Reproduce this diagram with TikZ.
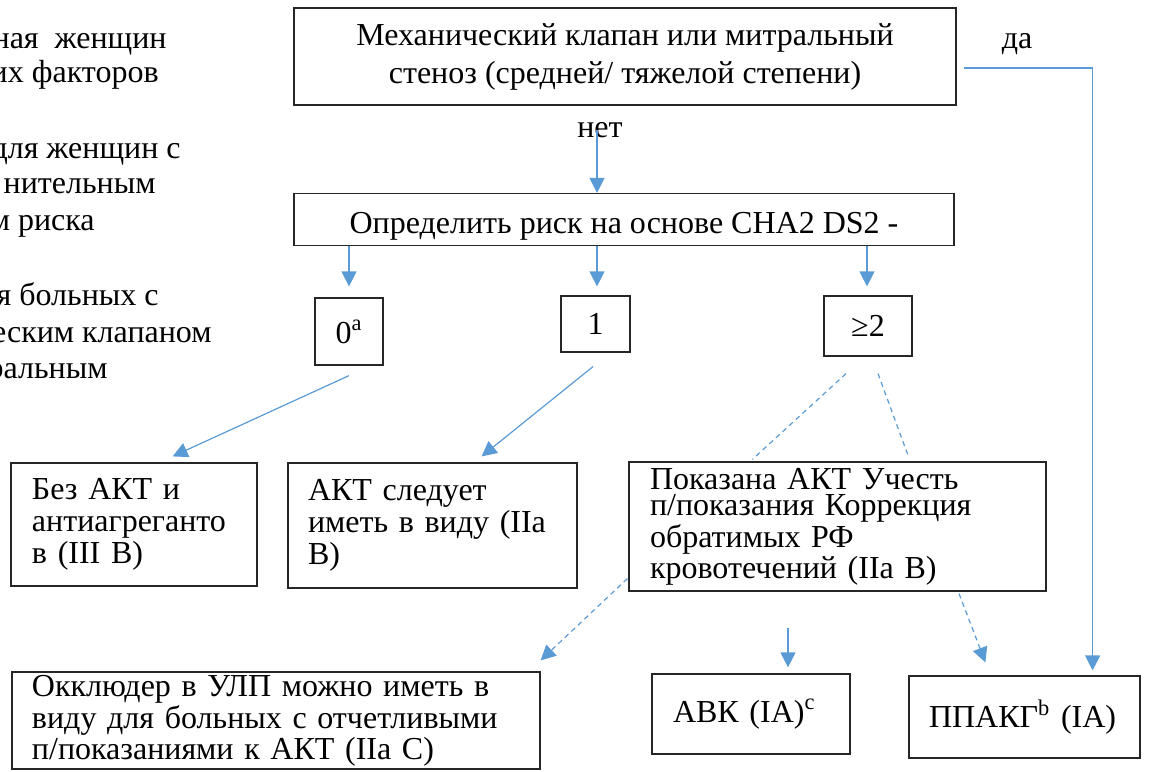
\documentclass[tikz,border=0pt]{standalone}
\usepackage{fontspec}
\setmainfont{Liberation Serif}
\usetikzlibrary{positioning,arrows.meta,calc}
\definecolor{arrowblue}{HTML}{5B9BD5}

\begin{document}
\begin{tikzpicture}[x=0.5pt,y=-0.5pt,
  font=\fontsize{16}{19}\selectfont,
  box/.style={draw=black!85,line width=0.6pt,inner sep=0pt},
  lbox/.style={box,align=left,inner xsep=10pt},
  arr/.style={draw=arrowblue,line width=0.6pt,-{Triangle[length=7.5pt,width=7.5pt]}},
  dashline/.style={draw=arrowblue,line width=0.6pt,dash pattern=on 2.5pt off 2pt},
  side/.style={anchor=base east,inner sep=0pt,font=\fontsize{16}{18}\selectfont}]

\useasboundingbox (0,0) rectangle (1149,771);

\node[side] (l1) at (167,48) {чная~ женщин};
\node[side] (l2) at (159,82) {их факторов};
\node[side] (l3) at (181,158) {для женщин с};
\node[side] (l4) at (156,193) {нительным};
\node[side] (l5) at (95,230) {м риска};
\node[side] (l6) at (159,305) {я больных с};
\node[side] (l7) at (212,342) {еским клапаном};
\node[side] (l8) at (108,378) {ральным};

\node[box,line width=1pt,minimum width=331pt,minimum height=48.5pt,align=center] (mech) at (625,56.5) {Механический клапан или митральный\\стеноз (средней/ тяжелой степени)};
\node[anchor=base,inner sep=0pt] (da) at (1017,48) {да};
\node[anchor=base,inner sep=0pt] (net) at (600,137) {нет};

\node[box,minimum width=330pt,minimum height=26pt,text height=13.5pt,text depth=0pt] (cha) at (624,219.5) {Определить риск на основе CHA2 DS2 -};

\node[box,minimum width=34pt,minimum height=33.5pt,text depth=0pt] (zero) at (349,331.5) {0\textsuperscript{a}};
\node[box,minimum width=34.5pt,minimum height=28pt] (one) at (595.5,324) {1};
\node[box,minimum width=44pt,minimum height=30pt] (geq) at (868,326) {≥2};

\node[lbox,minimum width=123pt,minimum height=61.5pt,text width=102pt,font=\fontsize{16}{16}\selectfont] (bez) at (134,524.5) {Без АКТ и\\антиагреганто\\в (III B)};
\node[lbox,minimum width=144.5pt,minimum height=62.5pt,text width=124.5pt,font=\fontsize{16}{16}\selectfont] (akt) at (432.5,525.5) {АКТ следует\\иметь в виду (IIa\\B)};
\node[lbox,minimum width=208.5pt,minimum height=64.5pt,text width=187.5pt,font=\fontsize{16}{13.25}\selectfont] (pok) at (837.5,526.5) {Показана АКТ Учесть\\п/показания Коррекция\\обратимых РФ\\кровотечений (IIa B)};
\node[lbox,minimum width=264pt,minimum height=48.5pt,text width=244pt,font=\fontsize{16}{13}\selectfont] (okk) at (276,720.5) {Окклюдер в УЛП можно иметь в\\виду для больных с отчетливыми\\п/показаниями к АКТ (IIa C)};
\node[lbox,minimum width=99pt,minimum height=40pt,text width=78pt] (avk) at (751,714) {АВК (IA)\textsuperscript{c}};
\node[lbox,minimum width=115.5pt,minimum height=41pt,text width=95.5pt] (ppakg) at (1024.5,717) {ППАКГ\textsuperscript{b} (IA)};

\draw[arr] ($(net.center)+(-3,0)$) -- ($(net.center |- cha.north)+(-3,0)$);
\draw[arr] ($(mech.east)+(7,11.5)$) -| ($(ppakg.north east)+(-48,-5)$);

\draw[arr] (zero.north |- cha.south) -- ($(zero.north)+(0,-11)$);
\draw[arr] ($(one.north |- cha.south)+(1.5,0)$) -- ($(one.north)+(1.5,-9)$);
\draw[arr] ($(geq.north |- cha.south)+(-1,0)$) -- ($(geq.north)+(-1,-9)$);

\draw[arr] ($(zero.south)+(0,10)$) -- ($(bez.north east)+(-85,-6)$);
\draw[arr] ($(one.south)+(-2.5,14)$) -- ($(akt.north east)+(-96,-6)$);
\draw[dashline] ($(geq.south)+(-22,17)$) -- ($(pok.north west)+(124,-2)$);
\draw[dashline] ($(geq.south)+(10,17)$) -- ($(pok.north west)+(280,-5)$);

\draw[arr,dashline] ($(pok.south west)+(-1,-13)$) -- ($(okk.north east)+(0,-11)$);
\draw[arr] ($(pok.south)+(-49.5,36)$) -- ($(avk.north)+(37,-6)$);
\draw[arr,dashline] ($(pok.south)+(121.5,2)$) -- ($(ppakg.north west)+(77,-13)$);

\end{tikzpicture}
\end{document}
